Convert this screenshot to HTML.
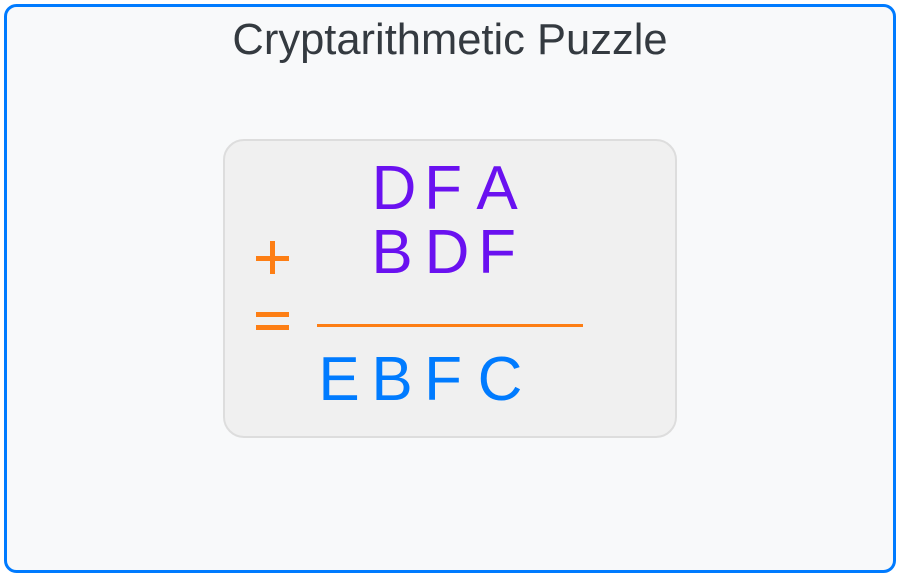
<!DOCTYPE html>
<html><head><meta charset="utf-8"><style>
html,body{margin:0;padding:0;background:#fff;width:900px;height:576px;overflow:hidden}
svg{display:block}
text{font-family:"Liberation Sans",sans-serif}
</style></head><body>
<svg width="900" height="576" viewBox="0 0 900 576" xmlns="http://www.w3.org/2000/svg">
<rect x="0" y="0" width="900" height="576" fill="#ffffff"/>
<rect x="5.5" y="5.5" width="889" height="566" rx="11" fill="#f8f9fa" stroke="#007bff" stroke-width="3"/>
<text x="450" y="54" font-size="43.5" fill="#343a40" text-anchor="middle">Cryptarithmetic Puzzle</text>
<rect x="224" y="140" width="452" height="297" rx="20" fill="#f0f0f0" stroke="#dddddd" stroke-width="2"/>
<g font-size="62" fill="#6a11f0" text-anchor="middle">
<text x="394" y="209">D</text><text x="443" y="209">F</text><text x="497" y="209">A</text>
<text x="392" y="273">B</text><text x="447" y="273">D</text><text x="497" y="273">F</text>
</g>
<g font-size="62" fill="#007bff" text-anchor="middle">
<text x="339" y="400">E</text><text x="392" y="400">B</text><text x="443" y="400">F</text><text x="500" y="400">C</text>
</g>
<g fill="#fd7e14">
<rect x="256" y="256" width="33" height="5"/>
<rect x="270" y="241" width="5" height="33"/>
<rect x="256" y="312" width="33" height="5"/>
<rect x="256" y="325" width="33" height="5"/>
<rect x="317" y="324" width="266" height="3"/>
</g>
</svg>
</body></html>
